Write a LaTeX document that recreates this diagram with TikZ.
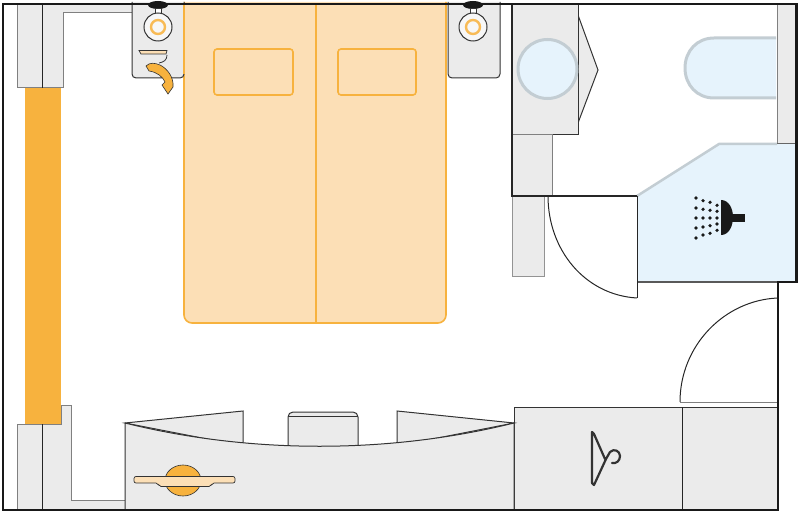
\documentclass[tikz,border=0pt]{standalone}
\usepackage{xcolor}
\definecolor{fitgray}{HTML}{EBEBEB}
\definecolor{lineedge}{HTML}{333333}
\definecolor{bedfill}{HTML}{FCDFB6}
\definecolor{amber}{HTML}{F7B23E}
\definecolor{waterblue}{HTML}{E6F3FC}
\definecolor{rimgray}{HTML}{C3CDD3}
\tikzset{
  fitting/.style={fill=fitgray, draw=lineedge, line width=1pt},
  softfit/.style={fill=fitgray, draw=gray!85, line width=1pt},
  bedpart/.style={fill=bedfill, draw=amber, line width=1.6pt},
  sanitary/.style={fill=waterblue, draw=rimgray, line width=3pt},
  amberpart/.style={fill=amber, draw=lineedge, line width=.6pt},
  wall/.style={draw=black!90, line width=2.4pt},
  thinline/.style={draw=black!85, line width=1pt},
  dropdot/.style={fill=black!90, draw=none},
}
\newcommand{\lampat}[1]{%
  \fill[black!90] (#1,5) ellipse (10 and 4);
  \draw[lineedge, line width=.8pt, fill=white] (#1-3,8) rectangle (#1+3,14);
  \draw[lineedge, line width=1pt, fill=fitgray!40] (#1,27) circle (14);
  \draw[amber!80!bedfill, line width=2.4pt] (#1,27) circle (7);
}
\begin{document}
\begin{tikzpicture}[x=1pt, y=-1pt]
  \useasboundingbox (0,0) rectangle (800,513);
  % piers and window
  \fill[amber] (25,88) rectangle (61,424);
  \draw[softfit, draw=gray] (17,4) -- (17,88) -- (63,88) -- (63,13) -- (132,13) -- (132,4);
  \draw[thinline] (42,4) -- (42,88);
  \draw[softfit, draw=gray] (17,510) -- (17,424) -- (61,424) -- (61,405) -- (71,405) -- (71,500) -- (125,500) -- (125,510) -- cycle;
  \draw[thinline] (42,424) -- (42,510);
  % bed
  \draw[bedpart, rounded corners=8pt] (184,2) -- (184,323) -- (446,323) -- (446,2);
  \draw[amber, line width=1.6pt] (316,4) -- (316,323);
  \draw[bedpart, rounded corners=3pt] (214,49) rectangle (293,95);
  \draw[bedpart, rounded corners=3pt] (338,49) rectangle (416,95);
  % night stands
  \draw[fitting, rounded corners=4pt] (132,2) -- (132,78) -- (184,78) -- (184,2);
  \draw[amber, line width=1.6pt] (184,4) -- (184,74);
  \draw[fitting, rounded corners=4pt] (448,2) -- (448,78) -- (500,78) -- (500,2);
  \lampat{158}
  \lampat{473}
  \draw[fill=bedfill, draw=lineedge, line width=.7pt] (139,50.5) -- (167,50.5) -- (166,54) -- (141,54) -- cycle;
  \draw[lineedge, line width=.8pt] (167,55) .. controls (167,60) and (164,62) .. (159,63);
  \draw[amberpart] (146,66) .. controls (150,62) and (155,63) .. (160,65)
    .. controls (168,69) and (174,78) .. (173,87) -- (168,94) -- (162,85) -- (165,82)
    .. controls (163,77) and (157,72) .. (149,71) -- cycle;
  % wardrobe by the bath
  \draw[fitting] (578,15) -- (598,70) -- (578,123) -- cycle;
  \draw[fitting] (512,4) rectangle (578,135);
  \draw[sanitary] (547.5,69) circle (29.5);
  \draw[softfit] (512,196) rectangle (544,276);
  \draw[fitting, draw=gray] (512,135) rectangle (552,196);
  % bathroom
  \draw[fitting, draw=gray, fill=fitgray] (777,4) rectangle (796,144);
  \draw[sanitary] (776,38) -- (714,38) .. controls (697,38) and (685,51) .. (685,68)
    .. controls (685,85) and (697,98) .. (714,98) -- (776,98);
  \fill[waterblue] (637,196) -- (719,144) -- (796,144) -- (796,282) -- (637,282) -- cycle;
  \draw[rimgray, line width=2.5pt] (637,196) -- (719,144) -- (777,144);
  \draw[gray!80!black, line width=1pt] (777,144) -- (796,144);
  \draw[gray!70!black, line width=2pt] (637,282) -- (778,282);
  \fill[black!90] (721,200) .. controls (729,200) and (733,209) .. (733,217)
    .. controls (733,226) and (729,235) .. (721,235) -- cycle;
  \fill[black!90] (731,214) rectangle (745,222);
  \foreach \dotx/\doty in {717/205.3, 717/211.3, 717/218, 717/224, 717/230.3,
      710/202.3, 710/210.3, 710/218, 710/225.7, 710/233.3,
      703/200.7, 703/209.3, 703/218, 703/227, 703/235,
      696/198, 696/208, 696/218, 696/228, 696/238} {
    \fill[dropdot] (\dotx,\doty) circle (1.8);
  }
  % doors
  \draw[thinline, line width=1.2pt] (512,4) -- (512,196) -- (637,196);
  \draw[thinline] (637,196) -- (637,298);
  \draw[thinline] (548,196) .. controls (548,250) and (585,295) .. (637,298);
  \draw[thinline] (778,298) .. controls (725,300) and (680,345) .. (680,402);
  \draw[gray, line width=1pt] (680,402) -- (778,402);
  % closets and desk
  \draw[fitting] (514,407) rectangle (778,510);
  \draw[thinline] (682,407) -- (682,510);
  \draw[lineedge, line width=2.2pt, line cap=round, line join=round]
    (605,459) -- (594,434) -- (592,432) -- (592,483) -- (594,485) -- (606,459)
    -- (610,452) .. controls (614,448) and (620,451) .. (620,456)
    .. controls (620,461) and (616,464) .. (612,463);
  \draw[fitting] (125,423) -- (243,411) -- (243,446) -- cycle;
  \draw[fitting] (514,423) -- (397,411) -- (397,446) -- cycle;
  \draw[fitting, rounded corners=5pt] (288,450) -- (288,412) -- (358,412) -- (358,450);
  \draw[lineedge, line width=.8pt] (288,416) -- (358,416);
  \draw[fitting] (125,423) .. controls (250,454) and (389,454) .. (514,423) -- (514,510) -- (125,510) -- cycle;
  \draw[amberpart] (183,480.5) ellipse (18 and 15.5);
  \draw[fill=bedfill, draw=lineedge, line width=.7pt, rounded corners=2pt]
    (134,476.5) -- (235,476.5) -- (235,483) -- (212,483) -- (211,486.5) -- (159,486.5) -- (158,483) -- (134,483) -- cycle;
  % outer wall
  \draw[wall, line join=miter] (3,4) -- (796.5,4) -- (796.5,282) -- (778,282) -- (778,510) -- (3,510) -- cycle;
\end{tikzpicture}
\end{document}
